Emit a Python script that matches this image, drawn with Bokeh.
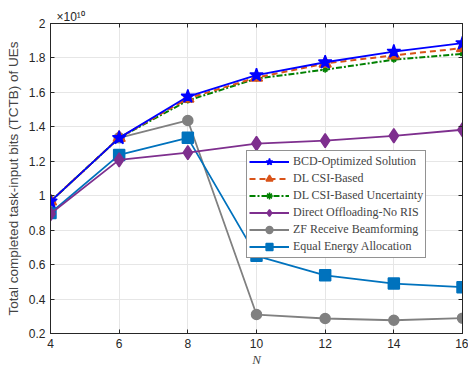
from bokeh.plotting import figure
from bokeh.models import FixedTicker, LinearAxis, Legend, Range1d, Title
from bokeh.embed import file_html
from bokeh.resources import INLINE

N = [4, 6, 8, 10, 12, 14, 16]
bcd = [0.967, 1.336, 1.576, 1.700, 1.775, 1.837, 1.886]
dl = [0.967, 1.336, 1.565, 1.686, 1.768, 1.815, 1.857]
dl_unc = [0.967, 1.336, 1.553, 1.680, 1.732, 1.790, 1.824]
direct = [0.895, 1.208, 1.250, 1.303, 1.320, 1.348, 1.383]
zf = [0.967, 1.336, 1.437, 0.310, 0.287, 0.277, 0.289]
equal = [0.900, 1.237, 1.336, 0.651, 0.538, 0.490, 0.469]

x_ticks = [4, 6, 8, 10, 12, 14, 16]
y_ticks = [0.2, 0.4, 0.6, 0.8, 1.0, 1.2, 1.4, 1.6, 1.8, 2.0]
y_labels = ["0.2", "0.4", "0.6", "0.8", "1", "1.2", "1.4", "1.6", "1.8", "2"]

axc = "#262626"
title = Title(text="×10¹⁰", align="left", text_font="Arial", text_font_size="12px",
              text_font_style="normal", text_color=axc, offset=6, standoff=0)

p = figure(width=468, height=369, output_backend="svg", toolbar_location=None,
           x_range=Range1d(4, 16), y_range=Range1d(0.2, 2.0), title=title,
           min_border_left=50, min_border_right=6, min_border_top=23, min_border_bottom=36)
p.background_fill_color = "white"
p.border_fill_color = "white"
p.outline_line_color = axc
p.outline_line_width = 1

for ax in [p.xaxis[0], p.yaxis[0]]:
    ax.major_tick_in = 4
    ax.major_tick_out = 0
    ax.minor_tick_in = 0
    ax.minor_tick_out = 0
    ax.axis_line_color = axc
    ax.major_tick_line_color = axc
    ax.major_label_text_font = "Arial"
    ax.major_label_text_font_size = "12px"
    ax.major_label_text_color = axc

p.xaxis.ticker = FixedTicker(ticks=x_ticks)
p.yaxis.ticker = FixedTicker(ticks=y_ticks)
p.yaxis.major_label_overrides = {t: l for t, l in zip(y_ticks, y_labels)}
p.xaxis.axis_label = "N"
p.xaxis.axis_label_text_font = "Times"
p.xaxis.axis_label_text_font_style = "italic"
p.xaxis.axis_label_text_font_size = "13px"
p.xaxis.axis_label_standoff = 1
p.yaxis.axis_label = "Total completed task-input bits (TCTB) of UEs"
p.yaxis.axis_label_text_font = "Arial"
p.yaxis.axis_label_text_font_style = "normal"
p.yaxis.axis_label_text_font_size = "13.5px"
p.yaxis.axis_label_standoff = 5
p.xaxis.major_label_standoff = 5
p.yaxis.major_label_standoff = 5

for loc in ["right", "above"]:
    ax = LinearAxis(ticker=FixedTicker(ticks=y_ticks if loc == "right" else x_ticks),
                    major_tick_in=4, major_tick_out=0, minor_tick_in=0, minor_tick_out=0,
                    major_label_text_font_size="0px", major_label_text_color=None,
                    axis_line_color=axc, major_tick_line_color=axc, major_label_standoff=0)
    p.add_layout(ax, loc)

p.xgrid.grid_line_color = "#e6e6e6"
p.ygrid.grid_line_color = "#e6e6e6"
p.xgrid.ticker = FixedTicker(ticks=x_ticks)
p.ygrid.ticker = FixedTicker(ticks=y_ticks)

items = []
def series(y, color, label, marker, size, dash="solid", lw=1.8):
    r1 = p.line(N, y, line_color=color, line_width=lw, line_dash=dash)
    r2 = p.scatter(N, y, marker=marker, size=size, line_color=color,
                   fill_color=color, line_width=1.5)
    items.append((label, [r1, r2]))

series(zf, "#808080", "ZF Receive Beamforming", "circle", 10)
series(equal, "#0072BD", "Equal Energy Allocation", "square", 11)
series(direct, "#7E2F8E", "Direct Offloading-No RIS", "diamond", 14)
series(dl_unc, "#008000", "DL CSI-Based Uncertainty", "asterisk", 6, dash="6 2 2 2", lw=2)
series(dl, "#D95319", "DL CSI-Based", "triangle", 12, dash="6 4", lw=2)
series(bcd, "#0000FF", "BCD-Optimized Solution", "star", 14)

order = ["BCD-Optimized Solution", "DL CSI-Based", "DL CSI-Based Uncertainty",
         "Direct Offloading-No RIS", "ZF Receive Beamforming", "Equal Energy Allocation"]
d = dict(items)
legend = Legend(items=[(k, d[k]) for k in order], location=(196, 75),
                label_text_font="serif", label_text_font_size="12px",
                glyph_width=40, glyph_height=17, spacing=0,
                padding=2, margin=0, label_standoff=4,
                border_line_color=axc, border_line_width=1, background_fill_alpha=1)
p.add_layout(legend, "center")

open("out.html", "w").write(file_html(p, INLINE))
